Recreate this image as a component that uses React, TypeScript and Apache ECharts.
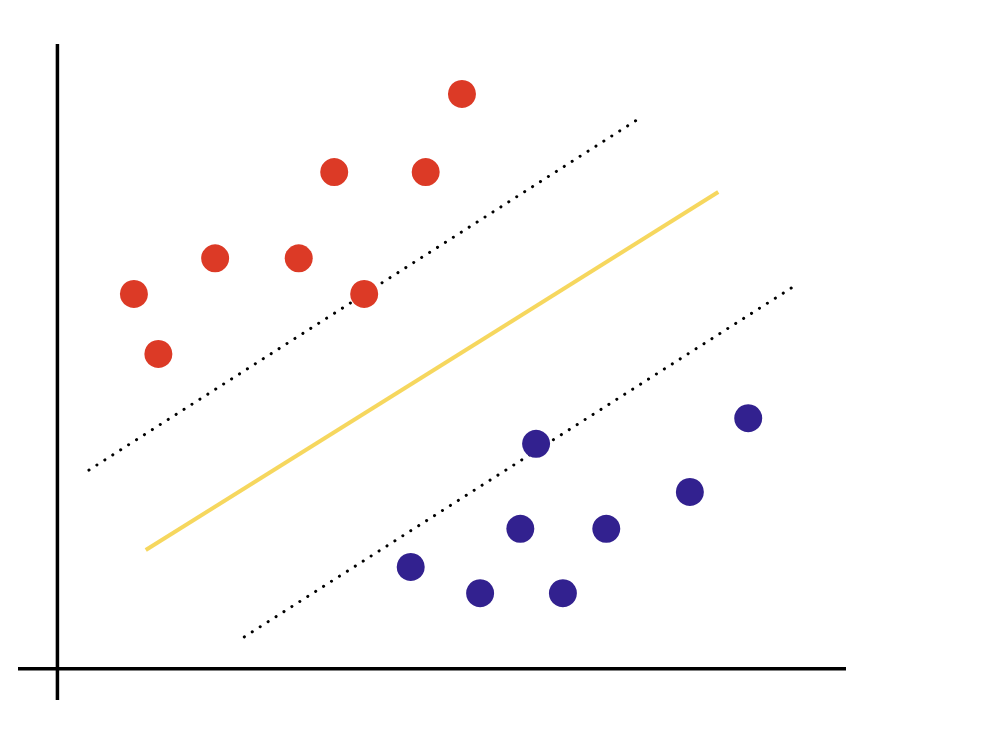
import React, { useEffect, useRef } from "react";
import * as echarts from "echarts";

const redPoints: [number, number][] = [
  [5.13, 9.2],
  [3.51, 7.95],
  [4.67, 7.95],
  [2.0, 6.57],
  [3.06, 6.57],
  [0.97, 6.0],
  [3.89, 6.0],
  [1.28, 5.04],
];

const bluePoints: [number, number][] = [
  [8.76, 4.01],
  [6.07, 3.6],
  [8.02, 2.83],
  [5.87, 2.24],
  [6.96, 2.24],
  [4.48, 1.63],
  [5.36, 1.21],
  [6.41, 1.21],
];

const separatorLine: [number, number][] = [
  [1.12, 1.9],
  [8.38, 7.63],
];
const upperMargin: [number, number][] = [
  [0.4, 3.18],
  [7.43, 8.85],
];
const lowerMargin: [number, number][] = [
  [2.37, 0.51],
  [9.4, 6.17],
];
const xAxisLine: [number, number][] = [
  [-0.5, 0],
  [10, 0],
];
const yAxisLine: [number, number][] = [
  [0, -0.5],
  [0, 10],
];

export default function App() {
  const ref = useRef<HTMLDivElement>(null);
  useEffect(() => {
    if (!ref.current) return;
    const chart = echarts.init(ref.current, undefined, { renderer: "svg" });
    const hiddenAxis = {
      type: "value" as const,
      min: -0.5,
      max: 10,
      axisLine: { show: false },
      axisTick: { show: false },
      axisLabel: { show: false },
      splitLine: { show: false },
    };
    const plainLine = (data: [number, number][], lineStyle: any, z: number) => ({
      type: "line",
      data,
      showSymbol: false,
      symbol: "none",
      silent: true,
      z,
      lineStyle,
    });
    chart.setOption({
      animation: false,
      backgroundColor: "#ffffff",
      grid: { left: 18, right: 146, top: 44, bottom: 44 },
      xAxis: hiddenAxis,
      yAxis: hiddenAxis,
      series: [
        plainLine(xAxisLine, { color: "#000", width: 3.5 }, 1),
        plainLine(yAxisLine, { color: "#000", width: 3.5 }, 1),
        plainLine(separatorLine, { color: "#f6d75e", width: 4 }, 2),
        plainLine(upperMargin, { color: "#000", width: 3, type: [0.1, 9.3], cap: "round" }, 2),
        plainLine(lowerMargin, { color: "#000", width: 3, type: [0.1, 9.3], cap: "round" }, 2),
        {
          type: "scatter",
          data: redPoints,
          symbolSize: 28,
          itemStyle: { color: "#dc3a26", opacity: 1 },
          z: 5,
        },
        {
          type: "scatter",
          data: bluePoints,
          symbolSize: 28,
          itemStyle: { color: "#32218f", opacity: 1 },
          z: 5,
        },
      ],
    });
    return () => chart.dispose();
  }, []);
  return (
    <div
      ref={ref}
      style={{ position: "fixed", left: 0, top: 0, width: 992, height: 744 }}
    />
  );
}
